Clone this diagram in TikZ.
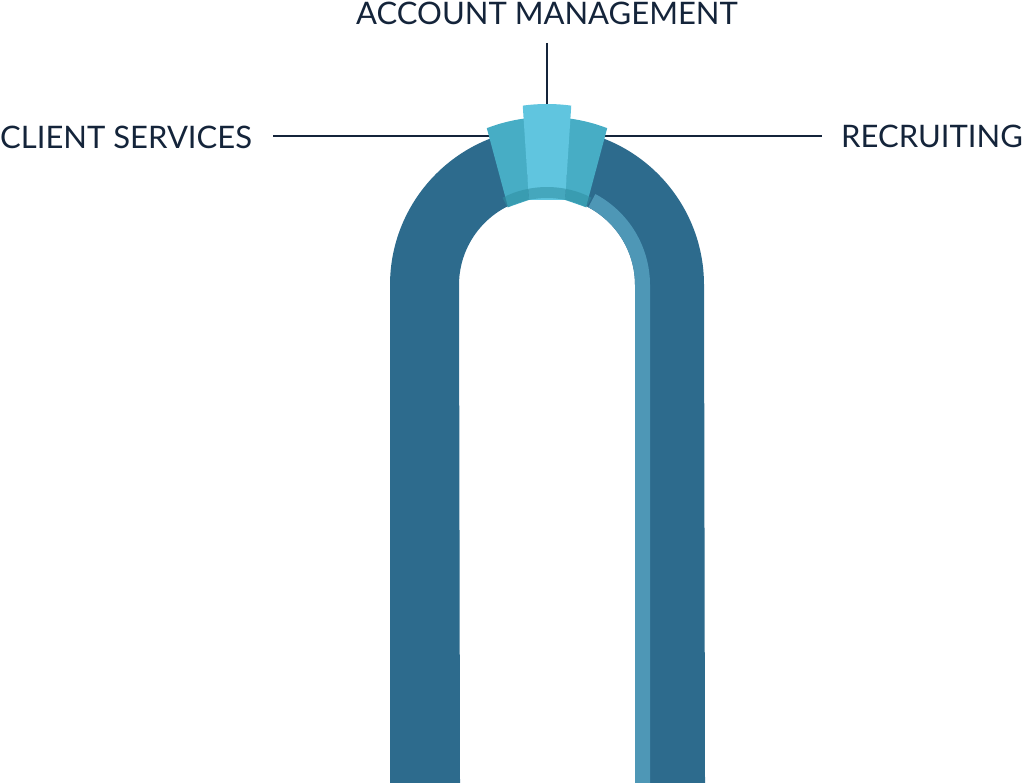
\documentclass[tikz,border=0pt]{standalone}
\usepackage{fontspec}
\setmainfont{Lato}
\usetikzlibrary{calc}
\definecolor{arch}{HTML}{2D6B8D}
\definecolor{stripe}{HTML}{4E97B6}
\definecolor{kside}{HTML}{47ADC5}
\definecolor{kmid}{HTML}{60C5DF}
\definecolor{kband}{HTML}{2F8FA2}
\definecolor{ink}{HTML}{14243A}
\begin{document}
\begin{tikzpicture}[x=1pt,y=-1pt,
  lbl/.style={font=\fontsize{31}{33}\selectfont, text=ink, inner sep=0pt},
  leader/.style={draw=ink, line width=2pt}]
\useasboundingbox (0,0) rectangle (1024,783);
\coordinate (c) at (547,285);
% arch
\fill[arch] (390,783) -- (390,285) arc[start angle=180,end angle=360,radius=157] -- (705,783) -- (635,783) -- (635,285) arc[start angle=0,end angle=-180,radius=88] -- (460,783) -- cycle;
% stripe
\fill[stripe] (635,783) -- (635,285) arc[start angle=0,end angle=-62,radius=88] -- ($(c)+(-62:103)$) arc[start angle=-62,end angle=0,radius=103] -- (650,783) -- cycle;
% leaders
\coordinate (lL) at (273,136); \coordinate (lR) at (822,136); \coordinate (lT) at (547,43);
\coordinate (kL) at (495,136); \coordinate (kR) at (605,136); \coordinate (kT) at (547,105);
\draw[leader] (lL) -- (kL);
\draw[leader] (kR) -- (lR);
\draw[leader] (lT) -- (kT);
% keystone
\fill[kside] ($(c)+(-111:168)$) arc[start angle=-111,end angle=-97.7,radius=168] -- ($(c)+(-102:87)$) -- ($(c)+(-116.6:87)$) -- cycle;
\fill[kside] ($(c)+(-69:168)$) arc[start angle=-69,end angle=-82.3,radius=168] -- ($(c)+(-78:87)$) -- ($(c)+(-63.4:87)$) -- cycle;
\fill[kmid] ($(c)+(-97.7:181)$) arc[start angle=-97.7,end angle=-82.3,radius=181] -- ($(c)+(-78:87)$) -- ($(c)+(-102:87)$) -- cycle;
\fill[kband, opacity=0.55] ($(c)+(-117:87)$) arc[start angle=-117,end angle=-63,radius=87] -- ($(c)+(-63:98)$) arc[start angle=-63,end angle=-117,radius=98] -- cycle;
% labels
\node[lbl, anchor=center] (tAM) at (547,13) {ACCOUNT MANAGEMENT};
\node[lbl, anchor=west] (tCS) at (0,137) {CLIENT SERVICES};
\node[lbl, anchor=east] (tR) at (1023,136) {RECRUITING};
\end{tikzpicture}
\end{document}
